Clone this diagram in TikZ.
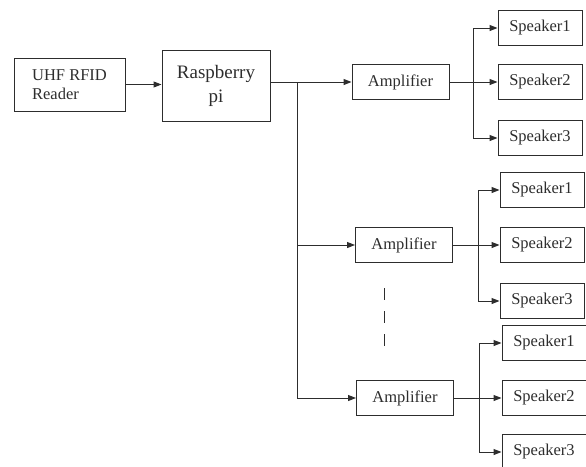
\documentclass[tikz,border=0pt]{standalone}
\usepackage{fontspec}
\setmainfont{Liberation Serif}
\usetikzlibrary{arrows.meta}
\definecolor{ink}{RGB}{45,45,45}
\tikzset{
  box/.style={draw=ink, line width=1pt, inner sep=0pt, text=ink, font=\fontsize{16.5}{19}\selectfont},
  spk/.style={box, minimum width=84pt, minimum height=35pt},
  amp/.style={box, minimum width=97pt, minimum height=35pt},
  conn/.style={draw=ink, line width=1pt},
  arr/.style={conn, -{Triangle[length=8pt,width=6pt]}},
}
\begin{document}
\begin{tikzpicture}[x=1pt,y=-1pt]
\useasboundingbox (0,0) rectangle (586,466);
% source blocks
\node[box, minimum width=111pt, minimum height=53pt, align=left] (uhf) at (69.5,84.5) {UHF RFID\\Reader};
\node[box, minimum width=108pt, minimum height=71pt, align=center, font=\fontsize{19}{24}\selectfont] (rpi) at (216,85.5) {Raspberry\\pi};
\draw[arr] (uhf.east) -- (uhf.east -| rpi.west);

% amplifiers
\node[amp] (a1) at (400.5,82) {Amplifier};
\node[amp] (a2) at (404,245) {Amplifier};
\node[amp] (a3) at (405,398) {Amplifier};

% speakers
\node[spk] (s11) at (540,28) {Speaker1};
\node[spk] (s12) at (540,82) {Speaker2};
\node[spk] (s13) at (540,138) {Speaker3};
\node[spk] (s21) at (542,190) {Speaker1};
\node[spk] (s22) at (542,245) {Speaker2};
\node[spk] (s23) at (542,301) {Speaker3};
\node[spk] (s31) at (544,343) {Speaker1};
\node[spk] (s32) at (544,398) {Speaker2};
\node[spk] (s33) at (544,452) {Speaker3};

% trunk
\coordinate (t1) at (297,82);
\coordinate (t3) at (297,398);
\draw[conn] (rpi.east |- t1) -- (t1);
\draw[conn] (t1) -- (t3);
\draw[arr] (t1) -- (a1.west);
\draw[arr] (t1 |- a2.west) -- (a2.west);
\draw[arr] (t3) -- (a3.west);

% branches
\coordinate (b1) at (473,82);
\coordinate (b2) at (478,245);
\coordinate (b3) at (479,398);
\foreach \a/\b/\x/\y/\z in {a1/b1/s11/s12/s13, a2/b2/s21/s22/s23, a3/b3/s31/s32/s33}{
  \draw[arr] (\a.east) -- (\y.west);
  \draw[arr] (\b) |- (\x.west);
  \draw[arr] (\b) |- (\z.west);
}

% continuation mark
\coordinate (d1) at (384,288);
\coordinate (d2) at (384,347);
\draw[conn, dash pattern=on 12pt off 11pt] (d1) -- (d2);
\end{tikzpicture}
\end{document}
